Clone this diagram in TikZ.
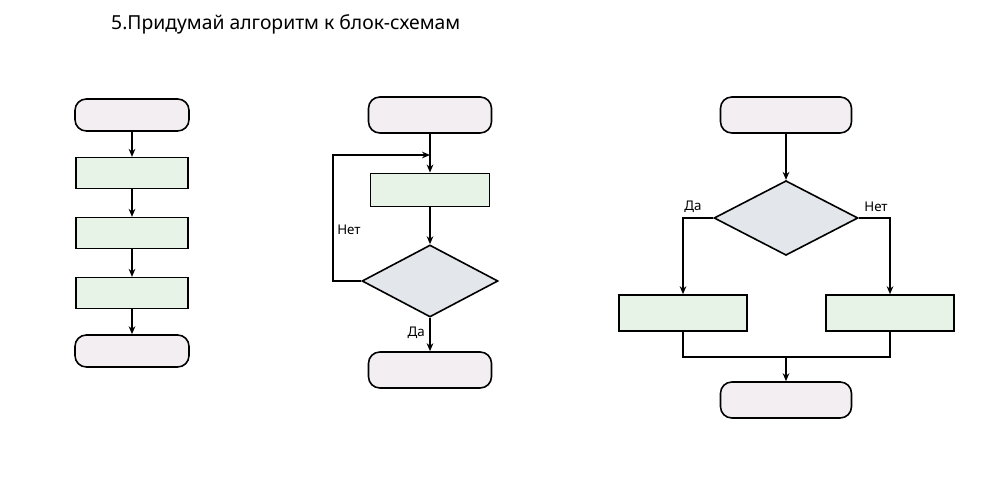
\documentclass[tikz,border=0pt]{standalone}
\usepackage{fontspec}
\setmainfont{Noto Sans}
\usetikzlibrary{shapes.geometric,arrows.meta}
\definecolor{term}{HTML}{F3EEF2}
\definecolor{proc}{HTML}{E6F3E6}
\definecolor{dec}{HTML}{E3E6EA}
\begin{document}
\begin{tikzpicture}[x=0.75pt,y=-0.75pt,
  every path/.style={line width=1.2pt},
  T/.style={draw,fill=term,rounded corners=8.5pt,minimum width=#1*0.75pt,minimum height=24pt,inner sep=0pt},
  P/.style={draw,fill=proc,minimum width=#1*0.75pt,inner sep=0pt},
  D/.style={draw,fill=dec,diamond,inner sep=0pt},
  A/.style={-{Stealth[length=6pt,width=5pt]}},
  L/.style={font=\fontsize{10}{12}\selectfont}]
\useasboundingbox (0,0) rectangle (997,477);
\node[anchor=west,font=\fontsize{14.5}{17}\selectfont] (title) at (106,24) {5.Придумай алгоритм к блок-схемам};
% diagram 1
\node[T=114,minimum height=24pt] (a1) at (132,115) {};
\node[P=112,minimum height=23pt] (a2) at (132,173) {};
\node[P=112,minimum height=23pt] (a3) at (132,233) {};
\node[P=112,minimum height=23pt] (a4) at (132,293) {};
\node[T=114,minimum height=24pt] (a5) at (132,351) {};
\draw[A] (a1) -- (a2); \draw[A] (a2) -- (a3); \draw[A] (a3) -- (a4); \draw[A] (a4) -- (a5);
% diagram 2
\node[T=123,minimum height=27pt] (b1) at (430,115) {};
\node[P=119,minimum height=25pt] (b2) at (430,190) {};
\node[D,minimum width=102pt,minimum height=54pt] (b3) at (430,281) {};
\node[T=123,minimum height=27pt] (b4) at (430,370) {};
\coordinate (bj) at (430,155);
\draw[A] (b1) -- (b2);
\draw[A] (b2) -- (b3);
\draw[A] (b3) -- node[L,left,pos=0.45]{Да} (b4);
\draw[A] (b3.west) -- (333,281) |- (bj);
\node[L] (net1) at (349,230) {Нет};
% diagram 3
\node[T=131,minimum height=27pt] (c1) at (786,115) {};
\node[D,minimum width=108pt,minimum height=56pt] (c2) at (786,218) {};
\node[P=128,minimum height=27pt] (c3) at (683,313) {};
\node[P=128,minimum height=27pt] (c4) at (890,313) {};
\node[T=131,minimum height=27pt] (c5) at (786,400) {};
\coordinate (cm) at (786,357);
\draw[A] (c1) -- (c2);
\draw[A] (c2.west) -| (c3.north);
\draw[A] (c2.east) -| (c4.north);
\draw (c3.south) |- (cm) -| (c4.south);
\draw[A] (cm) -- (c5);
\node[L] (da3) at (693,207) {Да};
\node[L] (net3) at (876,207) {Нет};
\end{tikzpicture}
\end{document}
